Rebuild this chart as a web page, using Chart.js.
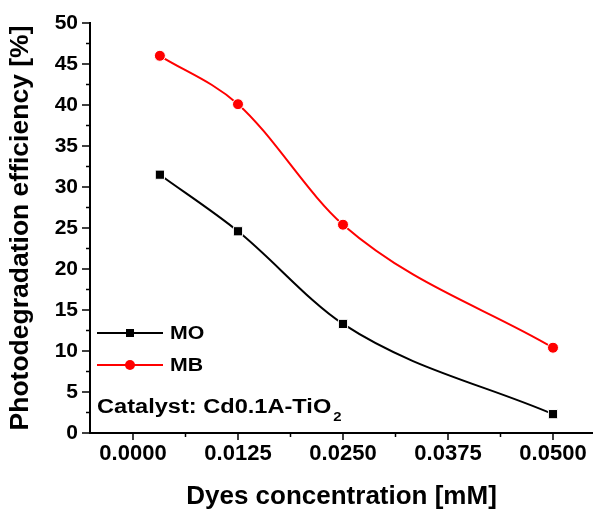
<!DOCTYPE html>
<html>
<head>
<meta charset="utf-8">
<script src="https://cdn.jsdelivr.net/npm/chart.js@4/dist/chart.umd.min.js"></script>
<style>
  html, body { margin: 0; padding: 0; background: #fff; }
  #wrap { width: 593px; height: 509px; position: relative; }
</style>
</head>
<body>
<div id="wrap"><canvas id="dyeChart"></canvas></div>
<script>
// data
const concentrations = [0.0032, 0.0125, 0.025, 0.05];
const moEfficiency = [31.5, 24.6, 13.3, 2.3];
const mbEfficiency = [46.0, 40.1, 25.4, 10.4];
const xTickValues = [0, 0.0125, 0.025, 0.0375, 0.05];
const yTickValues = [0, 5, 10, 15, 20, 25, 30, 35, 40, 45, 50];

const FONT = "'Liberation Sans', Arial, sans-serif";

function toPoints(xs, ys) {
  return xs.map((x, i) => ({ x: x, y: ys[i] }));
}

// Origin-style outward ticks, major + minor
const axisTicks = {
  id: 'axisTicks',
  afterDraw(chart) {
    const ctx = chart.ctx;
    const xs = chart.scales.x, ys = chart.scales.y;
    ctx.save();
    ctx.strokeStyle = '#000';
    ctx.lineWidth = 1.5;
    ctx.beginPath();
    const xStep = xTickValues[1] - xTickValues[0];
    for (let v = xTickValues[0] - xStep; v <= xs.max; v += xStep / 2) {
      const px = xs.getPixelForValue(v);
      if (px < xs.left || px > xs.right) continue;
      const major = Math.abs(Math.round(v / xStep) * xStep - v) < 1e-9;
      ctx.moveTo(px, xs.top);
      ctx.lineTo(px, xs.top + (major ? 7 : 4));
    }
    const yStep = yTickValues[1] - yTickValues[0];
    for (let v = 0; v <= ys.max + 1e-9; v += yStep / 2) {
      const py = ys.getPixelForValue(v);
      const major = v % yStep === 0;
      ctx.moveTo(ys.right, py);
      ctx.lineTo(ys.right - (major ? 8 : 4), py);
    }
    ctx.stroke();
    ctx.restore();
  }
};

// stretched bold text, like the original export
function wideText(ctx, txt, x, y, size, sx) {
  ctx.save();
  ctx.translate(x, y);
  ctx.scale(sx, 1);
  ctx.font = 'bold ' + size + 'px ' + FONT;
  ctx.fillText(txt, 0, 0);
  const w = ctx.measureText(txt).width * sx;
  ctx.restore();
  return w;
}

// legend + catalyst note inside the plot
const plotNotes = {
  id: 'plotNotes',
  afterDraw(chart) {
    const ctx = chart.ctx;
    ctx.save();
    const rows = [
      { label: 'MO', color: '#000', style: 'rect', y: 333 },
      { label: 'MB', color: '#ff0000', style: 'circle', y: 365 }
    ];
    rows.forEach(r => {
      ctx.strokeStyle = r.color;
      ctx.lineWidth = 2;
      ctx.beginPath();
      ctx.moveTo(97, r.y);
      ctx.lineTo(163, r.y);
      ctx.stroke();
      ctx.fillStyle = r.color;
      if (r.style === 'rect') {
        ctx.fillRect(130 - 4, r.y - 4, 8, 8);
      } else {
        ctx.beginPath();
        ctx.arc(130, r.y, 5, 0, Math.PI * 2);
        ctx.fill();
      }
      ctx.fillStyle = '#000';
      ctx.textBaseline = 'middle';
      wideText(ctx, r.label, 170, r.y + 1, 19, 1.12);
    });
    ctx.fillStyle = '#000';
    ctx.textBaseline = 'alphabetic';
    const w = wideText(ctx, 'Catalyst: Cd0.1A-TiO', 97, 413, 19.5, 1.21);
    wideText(ctx, '2', 97 + w + 2, 421, 13, 1.15);
    ctx.restore();
  }
};

const ctx = document.getElementById('dyeChart').getContext('2d');
new Chart(ctx, {
  type: 'line',
  data: {
    datasets: [
      {
        label: 'MO',
        data: toPoints(concentrations, moEfficiency),
        borderColor: '#000',
        backgroundColor: '#000',
        borderWidth: 2,
        pointStyle: 'rect',
        pointRadius: 6.5,
        pointBorderColor: '#fff',
        pointBorderWidth: 1,
        cubicInterpolationMode: 'monotone',
        fill: false
      },
      {
        label: 'MB',
        data: toPoints(concentrations, mbEfficiency),
        borderColor: '#ff0000',
        backgroundColor: '#ff0000',
        borderWidth: 2,
        pointStyle: 'circle',
        pointRadius: 5.5,
        pointBorderColor: '#fff',
        pointBorderWidth: 1,
        cubicInterpolationMode: 'monotone',
        fill: false
      }
    ]
  },
  options: {
    responsive: true,
    maintainAspectRatio: false,
    animation: false,
    layout: { autoPadding: false, padding: { top: 23, right: 0, left: 0, bottom: 0 } },
    plugins: {
      legend: { display: false },
      tooltip: { enabled: false }
    },
    scales: {
      x: {
        type: 'linear',
        min: -0.005119,
        max: 0.054762,
        afterBuildTicks: s => { s.ticks = xTickValues.map(v => ({ value: v })); },
        afterFit: s => { s.height = 76; s.paddingLeft = 0; s.paddingRight = 0; },
        grid: { display: false, drawTicks: false },
        border: { display: true, color: '#000', width: 2 },
        ticks: {
          color: '#000',
          padding: 8,
          maxRotation: 0,
          font: { family: FONT, size: 22, weight: 'bold' },
          callback: v => v.toFixed(4)
        },
        title: {
          display: true,
          text: 'Dyes concentration [mM]',
          color: '#000',
          padding: { top: 0, bottom: 0 },
          font: { family: FONT, size: 26, weight: 'bold', lineHeight: 0.92 }
        }
      },
      y: {
        min: 0,
        max: 50,
        afterBuildTicks: s => { s.ticks = yTickValues.map(v => ({ value: v })); },
        afterFit: s => { s.width = 90; s.paddingTop = 0; s.paddingBottom = 0; },
        grid: { display: false, drawTicks: false },
        border: { display: true, color: '#000', width: 2 },
        ticks: {
          color: '#000',
          padding: 12,
          font: { family: FONT, size: 21, weight: 'bold' }
        },
        title: {
          display: true,
          text: 'Photodegradation efficiency [%]',
          color: '#000',
          padding: { top: 5, bottom: 0 },
          font: { family: FONT, size: 26.5, weight: 'bold' }
        }
      }
    }
  },
  plugins: [axisTicks, plotNotes]
});
</script>
</body>
</html>
